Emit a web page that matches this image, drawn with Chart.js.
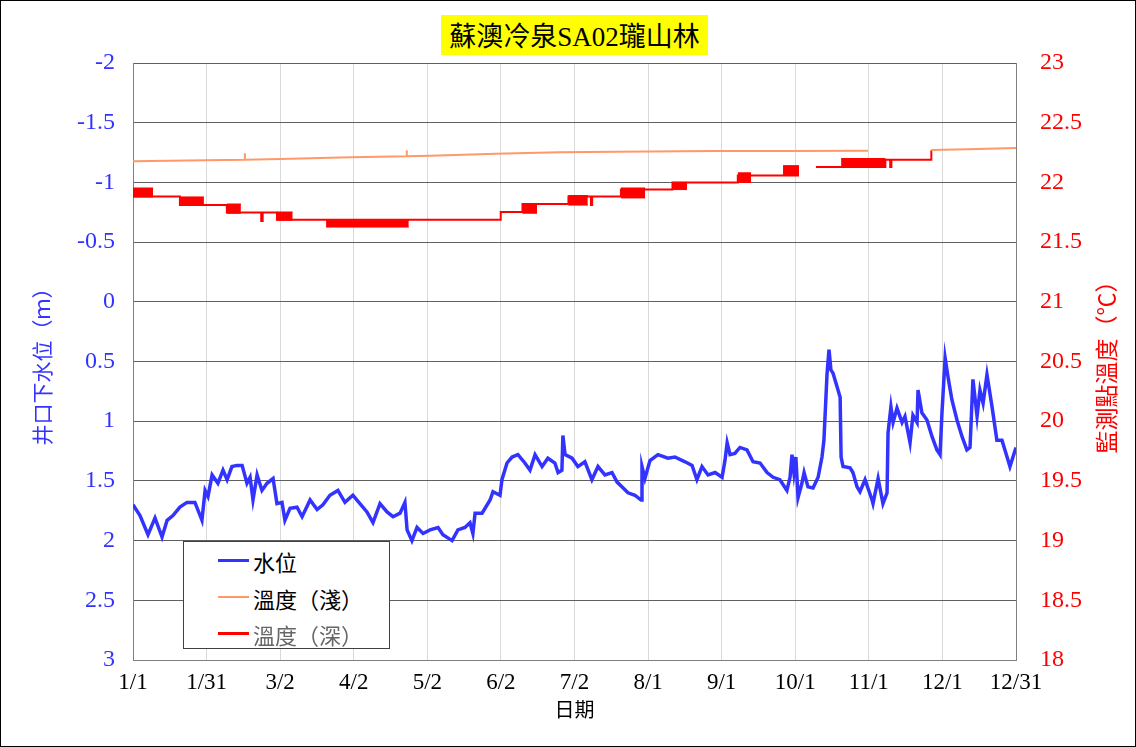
<!DOCTYPE html>
<html>
<head>
<meta charset="utf-8">
<script src="https://cdn.jsdelivr.net/npm/chart.js@4"></script>
<style>
body { margin: 0; background: #fff; }
#wrap { position: relative; width: 1134px; height: 745px; border: 1px solid #000; }
#chart { position: absolute; left: 0; top: 0; }
#title {
    position: absolute; left: 440px; top: 14px; width: 267px; height: 40px;
    background: #ffff00; color: #000; text-align: center; line-height: 40px;
    font: 27px "Liberation Serif", "Noto Sans CJK TC", serif; white-space: nowrap;
}
#legend {
    position: absolute; left: 182px; top: 540px; width: 205px; height: 106px;
    border: 1px solid #404040; background: #fff;
}
#legend .item { position: absolute; left: 0; height: 30px; }
#legend .swatch { position: absolute; left: 34px; width: 31px; top: 14px; }
#legend .label {
    position: absolute; left: 69px; top: 0; line-height: 30px; white-space: nowrap;
    font: 22px "Liberation Serif", "Noto Sans CJK TC", serif;
}
</style>
</head>
<body>
<div id="wrap">
    <canvas id="chart" width="1134" height="745"></canvas>
    <div id="title">蘇澳冷泉SA02瓏山林</div>
    <div id="legend"></div>
</div>
<script>
const dateLabels = ["1/1", "1/31", "3/2", "4/2", "5/2", "6/2", "7/2", "8/1", "9/1", "10/1", "11/1", "12/1", "12/31"];
const seriesNames = ["水位", "溫度（淺）", "溫度（深）"];

// water level below well mouth (m), x = day of year
const levelDays = [0,2.9,6.2,9.1,12.0,14.1,16.5,19.4,22.3,25.6,28.5,29.8,31.0,32.7,35.1,37.2,38.9,40.9,43.0,45.1,47.1,48.4,49.6,51.3,53.3,55.4,57.9,59.5,61.6,62.8,64.9,67.8,69.9,73.2,76.1,78.5,81.4,84.7,87.6,90.9,93.8,96.7,99.2,102.1,105.0,107.5,110.4,112.4,113.3,115.3,117.4,119.9,122.8,126.1,128.1,131.9,134.3,137.2,139.3,140.5,141.4,144.3,147.6,148.8,151.7,152.5,154.6,156.7,159.1,162.0,164.1,166.2,169.1,171.5,174.4,175.7,177.3,177.7,178.6,181.5,183.9,186.8,189.7,192.2,195.1,198.0,200.1,202.1,204.6,207.5,210.0,210.4,211.6,213.7,217.0,221.1,224.0,228.2,231.1,233.1,235.2,237.7,240.6,243.5,244.7,245.6,246.8,248.8,250.9,253.8,256.3,259.2,262.1,264.6,267.4,270.3,271.6,272.4,273.2,274.0,274.9,276.5,277.4,279.0,281.1,283.2,284.8,285.6,286.9,287.7,288.5,289.4,291.0,292.3,292.7,293.5,296.4,297.6,299.3,300.5,302.6,305.5,305.9,308.0,310.0,311.7,312.1,313.3,314.2,315.8,317.9,319.1,321.2,322.4,324.1,324.5,326.1,328.2,330.3,332.3,333.6,334.4,335.7,336.9,338.5,340.6,342.7,344.7,346.0,347.2,348.9,350.1,351.4,353.0,355.1,357.1,359.2,361.3,362.5,365];
const levelValues = [1.70,1.79,1.95,1.81,1.97,1.83,1.79,1.72,1.68,1.68,1.83,1.58,1.63,1.45,1.52,1.41,1.49,1.38,1.37,1.37,1.52,1.47,1.66,1.45,1.58,1.52,1.48,1.69,1.68,1.83,1.73,1.72,1.80,1.66,1.74,1.70,1.62,1.58,1.68,1.62,1.69,1.76,1.85,1.69,1.76,1.80,1.77,1.68,1.91,2.00,1.89,1.94,1.91,1.89,1.95,2.00,1.91,1.89,1.85,1.94,1.77,1.77,1.66,1.59,1.62,1.49,1.35,1.30,1.28,1.35,1.41,1.28,1.38,1.31,1.35,1.43,1.41,1.12,1.28,1.31,1.38,1.34,1.49,1.38,1.45,1.43,1.51,1.55,1.60,1.62,1.66,1.38,1.48,1.33,1.28,1.31,1.30,1.34,1.37,1.49,1.38,1.45,1.43,1.47,1.33,1.18,1.28,1.27,1.22,1.24,1.34,1.35,1.43,1.47,1.49,1.58,1.47,1.28,1.43,1.30,1.64,1.52,1.43,1.55,1.56,1.47,1.30,1.16,0.60,0.40,0.57,0.60,0.71,0.80,1.30,1.38,1.39,1.43,1.55,1.59,1.49,1.66,1.69,1.48,1.69,1.60,1.10,0.88,1.01,0.89,1.01,0.96,1.18,0.95,1.01,0.74,0.93,0.99,1.13,1.24,1.28,0.93,0.47,0.63,0.82,0.99,1.13,1.24,1.22,0.65,0.96,0.74,0.85,0.61,0.88,1.16,1.16,1.30,1.38,1.22];

// shallow temperature (°C)
const shallowDays = [0, 30, 46.2, 46.25, 46.3, 61, 90, 113.1, 113.15, 113.2, 123, 150, 176, 200, 240, 270, 303.8, 303.9, 329.9, 345, 365];
const shallowTemps = [22.178, 22.186, 22.19, 22.245, 22.19, 22.196, 22.21, 22.22, 22.27, 22.22, 22.224, 22.24, 22.252, 22.257, 22.262, 22.264, 22.265, null, 22.271, 22.278, 22.288];

// deep temperature (°C), level changes
const deepDays = [0, 19.4, 38.8, 53, 53.6, 59.5, 152, 161, 180, 189.3, 189.8, 201.7, 223, 250, 275.3, 275.4, 282.3, 311, 313, 313.5, 330, 330.3];
const deepTemps = [21.882, 21.811, 21.748, 21.677, 21.748, 21.687, 21.752, 21.819, 21.882, 21.811, 21.882, 21.94, 22.0, 22.058, 22.058, null, 22.129, 22.19, 22.129, 22.19, 22.26, 22.26];

// deep temperature flickering between two levels
const blockStart = [0, 19.4, 38.8, 59.5, 79.8, 161, 180, 201.7, 223, 250, 268.7, 292.7];
const blockEnd = [8.3, 29.3, 44.6, 66, 114, 167, 188, 211.7, 229, 255.5, 275.3, 311];
const blockLow = [21.878, 21.81, 21.742, 21.684, 21.626, 21.742, 21.81, 21.87, 21.94, 22.0, 22.06, 22.13];
const blockHigh = [21.953, 21.878, 21.819, 21.752, 21.684, 21.819, 21.89, 21.953, 22.0, 22.08, 22.14, 22.2];

const colors = ["#3333ff", "#ff9966", "#ff0000"];
const fontFamily = '"Liberation Serif", "Noto Sans CJK TC", serif';

function pairs(xs, ys) {
    return xs.map((x, i) => ({x: x, y: ys[i]}));
}

function blockEdge(values) {
    const pts = [];
    blockStart.forEach((s, i) => {
        pts.push({x: s, y: values[i]});
        pts.push({x: blockEnd[i], y: values[i]});
        pts.push({x: blockEnd[i], y: null});
    });
    return pts;
}

function plainNumber(value) {
    return String(Math.round(value * 10) / 10);
}

const rightTitle = {
    id: "rightTitle",
    afterDraw(chart) {
        const ctx = chart.ctx;
        const area = chart.chartArea;
        ctx.save();
        ctx.translate(1108, (area.top + area.bottom) / 2);
        ctx.rotate(-Math.PI / 2);
        ctx.fillStyle = "#ff0000";
        ctx.font = "23px " + fontFamily;
        ctx.textAlign = "center";
        ctx.textBaseline = "middle";
        ctx.fillText("監測點溫度（℃）", 0, 0);
        ctx.restore();
    }
};

const ctx = document.getElementById("chart").getContext("2d");

new Chart(ctx, {
    type: "line",
    data: {
        datasets: [
            {
                label: seriesNames[0],
                data: pairs(levelDays, levelValues),
                yAxisID: "y",
                borderColor: colors[0],
                borderWidth: 3.5,
                pointRadius: 0,
            },
            {
                label: seriesNames[1],
                data: pairs(shallowDays, shallowTemps),
                yAxisID: "y1",
                borderColor: colors[1],
                borderWidth: 2,
                pointRadius: 0,
                spanGaps: false,
            },
            {
                label: seriesNames[2],
                data: pairs(deepDays, deepTemps),
                yAxisID: "y1",
                borderColor: colors[2],
                borderWidth: 2,
                pointRadius: 0,
                stepped: true,
                spanGaps: false,
            },
            {
                label: "blockHigh",
                data: blockEdge(blockHigh),
                yAxisID: "y1",
                borderColor: colors[2],
                borderWidth: 1,
                pointRadius: 0,
                spanGaps: false,
            },
            {
                label: "blockLow",
                data: blockEdge(blockLow),
                yAxisID: "y1",
                borderColor: colors[2],
                backgroundColor: colors[2],
                borderWidth: 1,
                pointRadius: 0,
                spanGaps: false,
                fill: "-1",
            },
        ],
    },
    options: {
        responsive: false,
        animation: false,
        devicePixelRatio: 1,
        layout: {
            padding: {top: 62, left: 0, right: 0, bottom: 0}
        },
        plugins: {
            legend: {display: false},
            tooltip: {enabled: false},
        },
        scales: {
            x: {
                type: "linear",
                min: 0,
                max: 365,
                afterBuildTicks: scale => {
                    scale.ticks = dateLabels.map((l, i) => ({value: i * 365 / 12}));
                },
                afterFit: scale => { scale.height = 86; },
                ticks: {
                    autoSkip: false,
                    maxRotation: 0,
                    padding: 9,
                    color: "#000",
                    font: {family: fontFamily, size: 23},
                    callback: (value, index) => dateLabels[index],
                },
                grid: {color: "#d9d9d9", drawTicks: false},
                border: {color: "#808080"},
                title: {
                    display: true,
                    text: "日期",
                    color: "#000",
                    font: {family: fontFamily, size: 20},
                    padding: {top: 0, bottom: 22},
                },
            },
            y: {
                position: "left",
                reverse: true,
                min: -2,
                max: 3,
                afterFit: scale => { scale.width = 132; },
                ticks: {
                    stepSize: 0.5,
                    padding: 18,
                    color: "#3333ff",
                    font: {family: fontFamily, size: 24},
                    callback: plainNumber,
                },
                grid: {color: "#606060", drawTicks: false},
                border: {color: "#808080"},
                title: {
                    display: true,
                    text: "井口下水位（ｍ）",
                    color: "#3333ff",
                    font: {family: fontFamily, size: 21},
                    padding: {top: 31, bottom: 0},
                },
            },
            y1: {
                position: "right",
                min: 18,
                max: 23,
                afterFit: scale => { scale.width = 119; },
                ticks: {
                    stepSize: 0.5,
                    padding: 24,
                    color: "#ff0000",
                    font: {family: fontFamily, size: 24},
                    callback: plainNumber,
                },
                grid: {display: false, drawTicks: false},
                border: {color: "#808080"},
            },
        },
    },
    plugins: [rightTitle],
});

// legend box built from the series names and colours
const $legend = document.getElementById("legend");
const widths = [3, 2, 3];
const textColors = ["#000", "#000", "#666"];
seriesNames.forEach((name, i) => {
    const item = document.createElement("div");
    item.className = "item";
    item.style.top = (3 + i * 36.5) + "px";
    item.style.width = "100%";
    item.innerHTML = '<div class="swatch" style="height:' + widths[i] + 'px;background:' + colors[i] + '"></div>' +
        '<div class="label" style="color:' + textColors[i] + '">' + name + '</div>';
    $legend.appendChild(item);
});
</script>
</body>
</html>
